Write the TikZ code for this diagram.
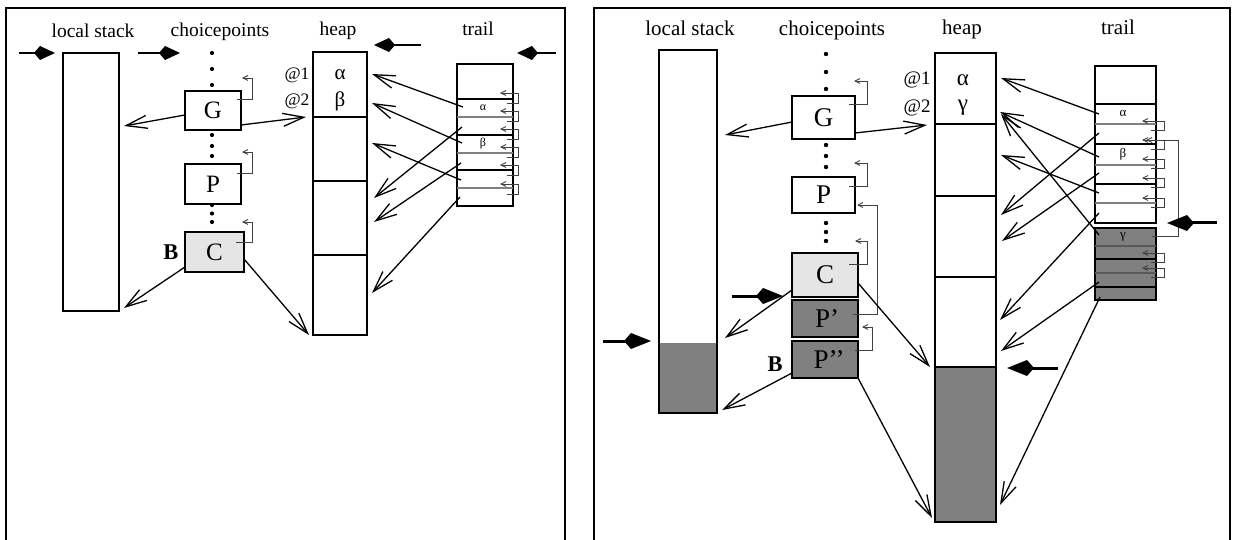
\documentclass[tikz,border=0pt]{standalone}
\usepackage{fontspec}
\setmainfont{Liberation Serif}
\usetikzlibrary{arrows.meta,calc}

\definecolor{lightfill}{gray}{0.9}
\definecolor{darkfill}{gray}{0.5}

\tikzset{
  frame/.style={line width=1.5pt},
  cell/.style={draw, line width=1.4pt, inner sep=0pt, outer sep=0pt},
  rowline/.style={line width=1.2pt},
  greyline/.style={line width=1.2pt, black!50},
  titleL/.style={anchor=base, inner sep=0pt, font=\fontsize{19.5}{20}\selectfont},
  titleR/.style={anchor=base, inner sep=0pt, font=\fontsize{21}{22}\selectfont},
  boxL/.style={font=\fontsize{25}{25}\selectfont},
  boxR/.style={font=\fontsize{27}{27}\selectfont},
  addrL/.style={inner sep=0pt, font=\fontsize{17.5}{18}\selectfont},
  addrR/.style={inner sep=0pt, font=\fontsize{19}{20}\selectfont},
  valL/.style={inner sep=0pt, font=\fontsize{21}{21}\selectfont},
  valR/.style={inner sep=0pt, font=\fontsize{23}{23}\selectfont},
  tinyL/.style={inner sep=0pt, font=\fontsize{12}{12}\selectfont},
  tinyR/.style={inner sep=0pt, font=\fontsize{13}{13}\selectfont},
  bmark/.style={inner sep=0pt, font=\fontsize{22.5}{23}\selectfont\bfseries},
  ptr/.style={line width=1.3pt, -{Straight Barb[length=21pt,width=13pt]}},
  selfp/.style={line width=0.9pt, black!75, -{Straight Barb[length=5pt,width=5pt]}},
  bigL/.style={line width=1.7pt, -{Kite[length=21pt,width=14pt,inset=6pt]}},
  bigR/.style={line width=3pt, -{Kite[length=27pt,width=16pt,inset=7pt]}},
  dot/.style={fill=black},
}

\begin{document}
\begin{tikzpicture}[x=1pt,y=-1pt]
\useasboundingbox (0,0) rectangle (1234,540);

%%%%%%%%%%%%%%%%%%%%%%%%%%%%%%%%%%%%%%%% left state
\draw[frame] (6,540) -- (6,8) -- (565,8) -- (565,540);

\node[titleL] (tlLS) at (93,38) {local stack};
\node[titleL] (tlCP) at (220,37) {choicepoints};
\node[titleL] (tlHP) at (338,36) {heap};
\node[titleL] (tlTR) at (478,36) {trail};

% local stack
\node[cell, minimum width=56pt, minimum height=258pt] (lsL) at (91,182) {};

% choicepoint stack
\foreach \y in {53,69,85,135,146,156,205,213.5,222}
  \fill[dot] (212,\y) circle (2.1pt);
\node[cell, boxL, minimum width=56pt, minimum height=39pt] (GL) at (213,110.5) {G};
\node[cell, boxL, minimum width=56pt, minimum height=40pt] (PL) at (213,184) {P};
\node[cell, boxL, fill=lightfill, minimum width=59pt, minimum height=40pt] (CL) at (214.5,252) {C};
\node[bmark] (BL) at (171,252) {B};

\draw[selfp] ($(GL.north east)+(-4,8)$) -| ++(15,-21) -- ++(-10,0);
\draw[selfp] ($(PL.north east)+(-4,9)$) -| ++(15,-21) -- ++(-10,0);
\draw[selfp] ($(CL.north east)+(-8,10)$) -| ++(16,-20) -- ++(-10,0);

% heap
\node[cell, minimum width=54pt, minimum height=283pt] (heapL) at (340,193.5) {};
\draw[line width=2pt] (heapL.west |- 0,117) -- (heapL.east |- 0,117);
\draw[rowline] (heapL.west |- 0,181) -- (heapL.east |- 0,181);
\draw[rowline] (heapL.west |- 0,255) -- (heapL.east |- 0,255);
\node[addrL] (a1L) at (297,75) {@1};
\node[addrL] (a2L) at (297,101) {@2};
\node[valL] (v1L) at (340,75) {α};
\node[valL] (v2L) at (340,101) {β};

% trail
\node[cell, minimum width=56pt, minimum height=142pt] (trL) at (485,135) {};
\draw[line width=1.6pt] (trL.west |- 0,99) -- (trL.east |- 0,99);
\foreach \y in {135,170}
  \draw[rowline] (trL.west |- 0,\y) -- (trL.east |- 0,\y);
\foreach \y in {117,153,188}
  \draw[greyline] (trL.west |- 0,\y) -- (trL.east |- 0,\y);
\node[tinyL] (t1L) at (483,108) {α};
\node[tinyL] (t2L) at (483,144) {β};
\foreach \t in {93,111,129,147,165,184}
  \draw[selfp] ($(trL.east |- 0,\t)+(-6,10)$) -- ++(11,0) |- ($(trL.east |- 0,\t)+(-13,0)$);

% top-of-area pointers
\coordinate (lsInL) at (19,53);
\coordinate (cpInL) at (138,53);
\coordinate (cpTipL) at (180,53);
\coordinate (hpInL) at (421,45);
\coordinate (trInL) at (556,53);
\draw[bigL] (lsInL) -- ($(lsL.north west)+(-8,0)$);
\draw[bigL] (cpInL) -- (cpTipL);
\draw[bigL] (hpInL) -- ($(heapL.north east)+(7,-7)$);
\draw[bigL] (trInL) -- ($(trL.north east)+(4,-11)$);

% choicepoint references
\draw[ptr] ([yshift=-4.5pt]GL.west) -- ($(lsL.east |- 0,126)+(5,0)$);
\draw[ptr] ([yshift=-14.5pt]GL.east) -- ($(heapL.west |- 0,117)+(-7,0)$);
\draw[ptr] ([yshift=-15pt]CL.west) -- ($(lsL.east |- 0,308)+(5,0)$);
\draw[ptr] ([yshift=-7pt]CL.east) -- ($(heapL.south west)+(-4,0)$);

% trail references
\draw[ptr] ($(trL.west |- 0,107)+(6,0)$) -- ($(heapL.east |- 0,74)+(5,0)$);
\draw[ptr] ($(trL.west |- 0,143)+(5,0)$) -- ($(heapL.east |- 0,103)+(5,0)$);
\draw[ptr] ($(trL.west |- 0,180)+(4,0)$) -- ($(heapL.east |- 0,143)+(5,0)$);
\draw[ptr] ($(trL.west |- 0,127)+(5,0)$) -- ($(heapL.east |- 0,198)+(7,0)$);
\draw[ptr] ($(trL.west |- 0,163)+(4,0)$) -- ($(heapL.east |- 0,222)+(7,0)$);
\draw[ptr] ($(trL.west |- 0,197)+(3,0)$) -- ($(heapL.east |- 0,293)+(5,0)$);

%%%%%%%%%%%%%%%%%%%%%%%%%%%%%%%%%%%%%%%% right state
\draw[frame] (594,540) -- (594,8) -- (1230,8) -- (1230,540);

\node[titleR] (trLS) at (690,36) {local stack};
\node[titleR] (trCP) at (832,36) {choicepoints};
\node[titleR] (trHP) at (962,35) {heap};
\node[titleR] (trTR) at (1118,35) {trail};

% local stack with used part
\node[cell, minimum width=58pt, minimum height=363pt,
      path picture={\fill[darkfill] ($(path picture bounding box.south west)+(0,-70)$)
                    rectangle (path picture bounding box.south east);}]
      (lsR) at (688,231.5) {};

% choicepoint stack
\foreach \y in {54,72,89,145,156,167,223,232,241}
  \fill[dot] (826,\y) circle (2.2pt);
\node[cell, boxR, minimum width=63pt, minimum height=43pt] (GR) at (823.5,117.5) {G};
\node[cell, boxR, minimum width=63pt, minimum height=36pt] (PR) at (823.5,195) {P};
\node[cell, boxR, fill=lightfill, minimum width=66pt, minimum height=44pt] (CR) at (825,275) {C};
\node[cell, boxR, fill=darkfill, minimum width=66pt, minimum height=37pt] (P1R) at (825,318.5) {\hspace{4pt}P’};
\node[cell, boxR, fill=darkfill, minimum width=66pt, minimum height=37pt] (P2R) at (825,359.5) {\hspace{8pt}P’’};
\node[bmark] (BR) at (775,364) {B};

\draw[selfp] ($(GR.north east)+(-6,8)$) -| ++(18,-23) -- ++(-13,0);
\draw[selfp] ($(PR.north east)+(-6,9)$) -| ++(18,-23) -- ++(-13,0);
\draw[selfp] ($(CR.north east)+(-9,11)$) -| ++(18,-23) -- ++(-12,0);
\draw[selfp] ($(P1R.east)+(-5,-4.5)$) -| ++(24,-109) -- ($(PR.east |- 0,205)+(2,0)$);
\draw[selfp] ($(P2R.east)+(-3,-9.5)$) -| ++(17,-23) -- ($(P1R.east |- 0,327)+(4,0)$);

% heap with new part
\node[cell, minimum width=61pt, minimum height=469pt,
      path picture={\fill[darkfill] ($(path picture bounding box.south west)+(0,-155)$)
                    rectangle (path picture bounding box.south east);}]
      (heapR) at (965.5,287.5) {};
\draw[line width=2pt] (heapR.west |- 0,124) -- (heapR.east |- 0,124);
\draw[rowline] (heapR.west |- 0,196) -- (heapR.east |- 0,196);
\draw[rowline] (heapR.west |- 0,277) -- (heapR.east |- 0,277);
\draw[line width=2pt] (heapR.west |- 0,367) -- (heapR.east |- 0,367);
\node[addrR] (a1R) at (917,80) {@1};
\node[addrR] (a2R) at (917,108) {@2};
\node[valR] (v1R) at (963,80) {α};
\node[valR] (v2R) at (963,108) {γ};

% trail: old entries and new segment
\node[cell, minimum width=61pt, minimum height=157pt] (trR) at (1125.5,144.5) {};
\node[cell, fill=darkfill, minimum width=61pt, minimum height=72pt] (trRs) at (1125.5,264) {};
\draw[line width=1.6pt] (trR.west |- 0,104) -- (trR.east |- 0,104);
\foreach \y in {144,184}
  \draw[rowline] (trR.west |- 0,\y) -- (trR.east |- 0,\y);
\foreach \y in {124,165,203}
  \draw[greyline] (trR.west |- 0,\y) -- (trR.east |- 0,\y);
\foreach \y in {259,287}
  \draw[rowline] (trRs.west |- 0,\y) -- (trRs.east |- 0,\y);
\foreach \y in {246,273}
  \draw[rowline, black!65] (trRs.west |- 0,\y) -- (trRs.east |- 0,\y);
\node[tinyR] (t1R) at (1123,113) {α};
\node[tinyR] (t2R) at (1123,154) {β};
\node[tinyR] (t3R) at (1123,237) {γ};
\foreach \t in {121,140,159,178,198}
  \draw[selfp] ($(trR.east |- 0,\t)+(-5,9)$) -- ++(13,0) |- ($(trR.east |- 0,\t)+(-14,0)$);
\foreach \t in {253,268}
  \draw[selfp] ($(trRs.east |- 0,\t)+(-5,9)$) -- ++(13,0) |- ($(trRs.east |- 0,\t)+(-14,0)$);
\draw[selfp] ($(trRs.east |- 0,236)+(-4,0)$) -| ++(26,-96) -- ($(trR.east |- 0,140)+(-10,0)$);

% top-of-area pointers
\coordinate (lsInR) at (603,341);
\coordinate (cpInR) at (732,296);
\coordinate (hpInR) at (1058,368);
\coordinate (trInR) at (1217,223);
\draw[bigR] (lsInR) -- ($(lsR.west |- 0,341)+(-8,0)$);
\draw[bigR] (cpInR) -- ($(CR.west |- 0,296)+(-9,0)$);
\draw[bigR] (hpInR) -- ($(heapR.east |- 0,368)+(11,0)$);
\draw[bigR] (trInR) -- ($(trR.east |- 0,223)+(11,0)$);

% choicepoint references
\draw[ptr] ([yshift=-4.5pt]GR.west) -- ($(lsR.east |- 0,135)+(8,0)$);
\draw[ptr] ([yshift=-15.5pt]GR.east) -- ($(heapR.west |- 0,125)+(-8,0)$);
\draw[ptr] ([yshift=-15pt]CR.west) -- ($(lsR.east |- 0,338)+(8,0)$);
\draw[ptr] ([yshift=-8pt]CR.east) -- ($(heapR.west |- 0,367)+(-5,0)$);
\draw[ptr] ([yshift=-13.5pt]P2R.west) -- ($(lsR.south east)+(5,-3)$);
\draw[ptr] ([yshift=-18.5pt]P2R.east) -- ($(heapR.south west)+(-3,-4)$);

% trail references
\draw[ptr] ($(trR.west |- 0,114)+(4,0)$) -- ($(heapR.east |- 0,78)+(5,0)$);
\draw[ptr] ($(trR.west |- 0,157)+(4,0)$) -- ($(heapR.east |- 0,112)+(4,0)$);
\draw[ptr] ($(trR.west |- 0,193)+(4,0)$) -- ($(heapR.east |- 0,155)+(5,0)$);
\draw[ptr] ($(trR.west |- 0,133)+(4,0)$) -- ($(heapR.east |- 0,215)+(5,0)$);
\draw[ptr] ($(trR.west |- 0,173)+(4,0)$) -- ($(heapR.east |- 0,241)+(6,0)$);
\draw[ptr] ($(trR.west |- 0,213)+(4,0)$) -- ($(heapR.east |- 0,320)+(4,0)$);
\draw[ptr] ($(trRs.west |- 0,235)+(4,0)$) -- ($(heapR.east |- 0,114)+(5,0)$);
\draw[ptr] ($(trRs.west |- 0,282)+(4,0)$) -- ($(heapR.east |- 0,351)+(5,0)$);
\draw[ptr] ($(trRs.west |- 0,297)+(5,0)$) -- ($(heapR.east |- 0,505)+(4,0)$);
\end{tikzpicture}
\end{document}
